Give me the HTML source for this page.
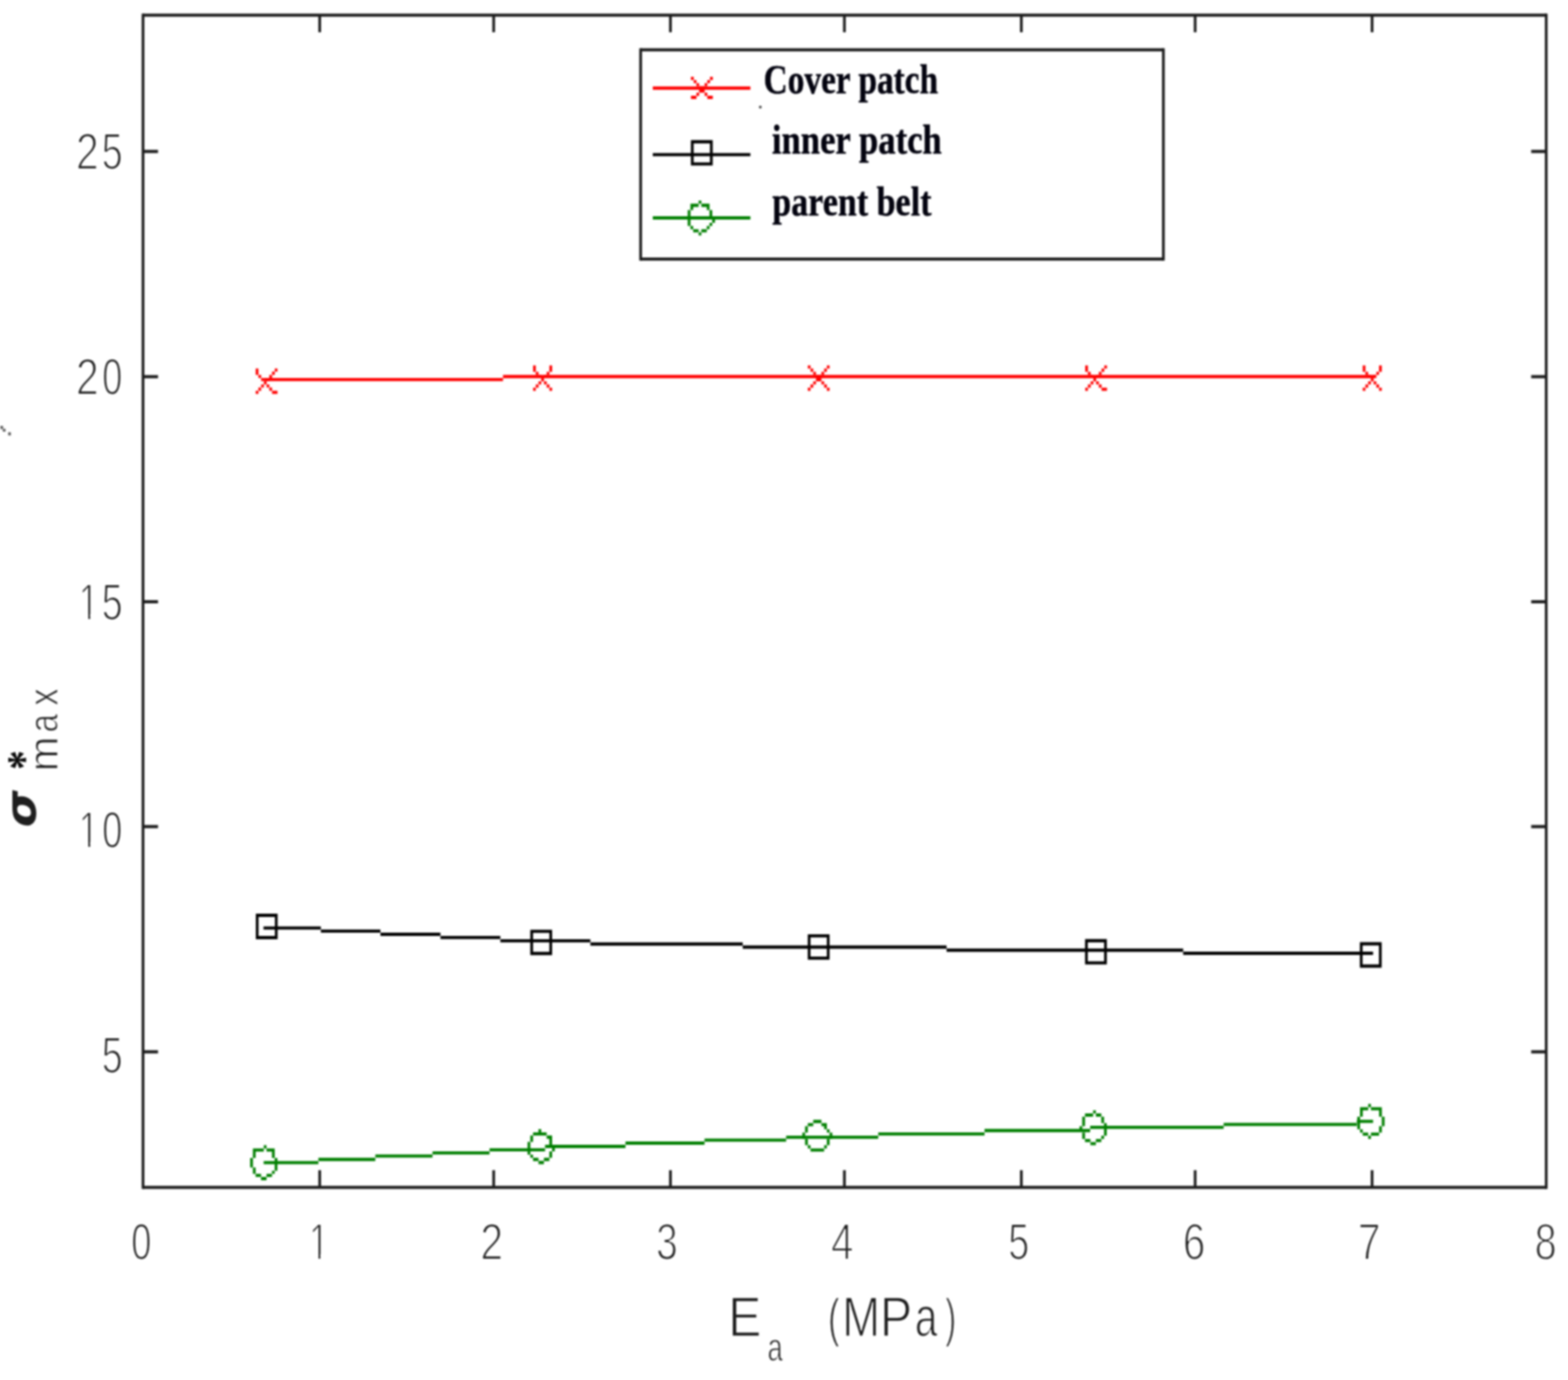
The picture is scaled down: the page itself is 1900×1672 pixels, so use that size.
<!DOCTYPE html>
<html lang="en">
<head>
<meta charset="utf-8">
<title>Maximum stress versus adhesive modulus</title>
<style>
html,body{margin:0;padding:0;background:#fff;}
body{width:1900px;height:1672px;overflow:hidden;position:relative;}
svg{display:block;position:absolute;left:0;top:0;}
text{font-family:"Liberation Sans",sans-serif;}
.tk{font-size:63px;fill:#1c1c1c;stroke:#fff;stroke-width:2px;}
.xl{font-size:69px;fill:#1c1c1c;stroke:#fff;stroke-width:1.6px;}
.sub{font-size:49px;fill:#1c1c1c;stroke:#fff;stroke-width:1.2px;}
.lg{font-family:"Liberation Serif",serif;font-weight:bold;font-size:51.5px;fill:#03030f;stroke:#03030f;stroke-width:0.5px;}
</style>
</head>
<body>
<svg width="1900" height="1672" viewBox="0 0 1900 1672">
<defs><filter id="soft" x="0" y="0" width="1900" height="1672" filterUnits="userSpaceOnUse" color-interpolation-filters="sRGB"><feGaussianBlur stdDeviation="1.0"/></filter></defs>
<rect x="0" y="0" width="1900" height="1672" fill="#ffffff"/>
<g filter="url(#soft)">
<g stroke="#1c1c1c" fill="none" stroke-linecap="butt">
<line x1="173.3" y1="16.375" x2="173.3" y2="1440.5249999999999" stroke-width="3.3"/>
<line x1="1873.6" y1="16.375" x2="1873.6" y2="1440.5249999999999" stroke-width="3.3"/>
<line x1="173.3" y1="18.3" x2="1873.6" y2="18.3" stroke-width="3.85"/>
<line x1="173.3" y1="1438.6" x2="1873.6" y2="1438.6" stroke-width="3.85"/>
<line x1="387.4" y1="1438.6" x2="387.4" y2="1417.8" stroke-width="3.3"/>
<line x1="387.4" y1="18.3" x2="387.4" y2="39.1" stroke-width="3.3"/>
<line x1="598.2" y1="1438.6" x2="598.2" y2="1417.8" stroke-width="3.3"/>
<line x1="598.2" y1="18.3" x2="598.2" y2="39.1" stroke-width="3.3"/>
<line x1="812.4" y1="1438.6" x2="812.4" y2="1417.8" stroke-width="3.3"/>
<line x1="812.4" y1="18.3" x2="812.4" y2="39.1" stroke-width="3.3"/>
<line x1="1023.2" y1="1438.6" x2="1023.2" y2="1417.8" stroke-width="3.3"/>
<line x1="1023.2" y1="18.3" x2="1023.2" y2="39.1" stroke-width="3.3"/>
<line x1="1237.6" y1="1438.6" x2="1237.6" y2="1417.8" stroke-width="3.3"/>
<line x1="1237.6" y1="18.3" x2="1237.6" y2="39.1" stroke-width="3.3"/>
<line x1="1448.2" y1="1438.6" x2="1448.2" y2="1417.8" stroke-width="3.3"/>
<line x1="1448.2" y1="18.3" x2="1448.2" y2="39.1" stroke-width="3.3"/>
<line x1="1662.6" y1="1438.6" x2="1662.6" y2="1417.8" stroke-width="3.3"/>
<line x1="1662.6" y1="18.3" x2="1662.6" y2="39.1" stroke-width="3.3"/>
<line x1="173.3" y1="183.5" x2="191.5" y2="183.5" stroke-width="3.85"/>
<line x1="1873.6" y1="183.5" x2="1855.3999999999999" y2="183.5" stroke-width="3.85"/>
<line x1="173.3" y1="456.4" x2="191.5" y2="456.4" stroke-width="3.85"/>
<line x1="1873.6" y1="456.4" x2="1855.3999999999999" y2="456.4" stroke-width="3.85"/>
<line x1="173.3" y1="729.1" x2="191.5" y2="729.1" stroke-width="3.85"/>
<line x1="1873.6" y1="729.1" x2="1855.3999999999999" y2="729.1" stroke-width="3.85"/>
<line x1="173.3" y1="1001.5" x2="191.5" y2="1001.5" stroke-width="3.85"/>
<line x1="1873.6" y1="1001.5" x2="1855.3999999999999" y2="1001.5" stroke-width="3.85"/>
<line x1="173.3" y1="1274.4" x2="191.5" y2="1274.4" stroke-width="3.85"/>
<line x1="1873.6" y1="1274.4" x2="1855.3999999999999" y2="1274.4" stroke-width="3.85"/>
</g>
<text class="tk" y="1526.30"><tspan x="158.95" textLength="24.53" lengthAdjust="spacingAndGlyphs">0</tspan></text>
<text class="tk" y="1526.30"><tspan x="374.41" textLength="23.83" lengthAdjust="spacingAndGlyphs">1</tspan></text><path d="M374.41,1519.68H385.94V1529.30H374.41ZM388.16,1519.68H398.40V1529.30H388.16Z" fill="#fff"/>
<text class="tk" y="1526.30"><tspan x="581.96" textLength="27.68" lengthAdjust="spacingAndGlyphs">2</tspan></text>
<text class="tk" y="1526.30"><tspan x="795.01" textLength="26.28" lengthAdjust="spacingAndGlyphs">3</tspan></text>
<text class="tk" y="1526.30"><tspan x="1006.99" textLength="27.33" lengthAdjust="spacingAndGlyphs">4</tspan></text>
<text class="tk" y="1526.30"><tspan x="1221.74" textLength="25.40" lengthAdjust="spacingAndGlyphs">5</tspan></text>
<text class="tk" y="1526.30"><tspan x="1433.34" textLength="27.33" lengthAdjust="spacingAndGlyphs">6</tspan></text>
<text class="tk" y="1526.30"><tspan x="1645.26" textLength="27.68" lengthAdjust="spacingAndGlyphs">7</tspan></text>
<text class="tk" y="1526.30"><tspan x="1859.55" textLength="26.81" lengthAdjust="spacingAndGlyphs">8</tspan></text>
<text class="tk" y="205.30"><tspan x="92.12" textLength="27.68" lengthAdjust="spacingAndGlyphs">2</tspan><tspan x="123.33" textLength="25.40" lengthAdjust="spacingAndGlyphs">5</tspan></text>
<text class="tk" y="478.10"><tspan x="92.12" textLength="27.68" lengthAdjust="spacingAndGlyphs">2</tspan><tspan x="123.67" textLength="24.53" lengthAdjust="spacingAndGlyphs">0</tspan></text>
<text class="tk" y="750.60"><tspan x="95.51" textLength="23.83" lengthAdjust="spacingAndGlyphs">1</tspan><tspan x="123.33" textLength="25.40" lengthAdjust="spacingAndGlyphs">5</tspan></text><path d="M95.51,743.99H107.04V753.60H95.51ZM109.26,743.99H119.50V753.60H109.26Z" fill="#fff"/>
<text class="tk" y="1026.90"><tspan x="95.51" textLength="23.83" lengthAdjust="spacingAndGlyphs">1</tspan><tspan x="123.67" textLength="24.53" lengthAdjust="spacingAndGlyphs">0</tspan></text><path d="M95.51,1020.29H107.04V1029.90H95.51ZM109.26,1020.29H119.50V1029.90H109.26Z" fill="#fff"/>
<text class="tk" y="1299.70"><tspan x="123.33" textLength="25.40" lengthAdjust="spacingAndGlyphs">5</tspan></text>
<path d="M319.5,459.9H609.5M609.5,456.2H1666.5" fill="none" stroke="#ff0000" stroke-width="3.85"/>
<path d="M309.85,446.45h3.30v3.85h-3.30zM332.95,446.45h3.30v3.85h-3.30zM309.85,450.30h3.30v3.85h-3.30zM329.65,450.30h3.30v3.85h-3.30zM313.15,454.15h3.30v3.85h-3.30zM326.35,454.15h3.30v3.85h-3.30zM316.45,458.00h3.30v3.85h-3.30zM323.05,458.00h3.30v3.85h-3.30zM319.75,461.85h3.30v3.85h-3.30zM316.45,465.70h3.30v3.85h-3.30zM323.05,465.70h3.30v3.85h-3.30zM313.15,469.55h3.30v3.85h-3.30zM326.35,469.55h3.30v3.85h-3.30zM309.85,473.40h3.30v3.85h-3.30zM329.65,473.40h6.60v3.85h-6.60z" fill="#ff0000"/>
<path d="M645.95,442.70h3.30v3.85h-3.30zM665.75,442.70h3.30v3.85h-3.30zM645.95,446.55h3.30v3.85h-3.30zM665.75,446.55h3.30v3.85h-3.30zM649.25,450.40h3.30v3.85h-3.30zM662.45,450.40h3.30v3.85h-3.30zM652.55,454.25h3.30v3.85h-3.30zM659.15,454.25h3.30v3.85h-3.30zM655.85,458.10h3.30v3.85h-3.30zM652.55,461.95h3.30v3.85h-3.30zM659.15,461.95h3.30v3.85h-3.30zM649.25,465.80h3.30v3.85h-3.30zM662.45,465.80h3.30v3.85h-3.30zM645.95,469.65h3.30v3.85h-3.30zM665.75,469.65h3.30v3.85h-3.30z" fill="#ff0000"/>
<path d="M978.85,442.70h3.30v3.85h-3.30zM1001.95,442.70h3.30v3.85h-3.30zM982.15,446.55h3.30v3.85h-3.30zM998.65,446.55h3.30v3.85h-3.30zM985.45,450.40h3.30v3.85h-3.30zM995.35,450.40h3.30v3.85h-3.30zM988.75,454.25h6.60v3.85h-6.60zM988.75,458.10h6.60v3.85h-6.60zM985.45,461.95h3.30v3.85h-3.30zM995.35,461.95h3.30v3.85h-3.30zM982.15,465.80h3.30v3.85h-3.30zM998.65,465.80h3.30v3.85h-3.30zM978.85,469.65h3.30v3.85h-3.30zM1001.95,469.65h3.30v3.85h-3.30z" fill="#ff0000"/>
<path d="M1315.00,442.70h3.30v3.85h-3.30zM1338.10,442.70h3.30v3.85h-3.30zM1315.00,446.55h3.30v3.85h-3.30zM1334.80,446.55h3.30v3.85h-3.30zM1318.30,450.40h3.30v3.85h-3.30zM1331.50,450.40h3.30v3.85h-3.30zM1321.60,454.25h3.30v3.85h-3.30zM1328.20,454.25h3.30v3.85h-3.30zM1324.90,458.10h3.30v3.85h-3.30zM1321.60,461.95h3.30v3.85h-3.30zM1328.20,461.95h3.30v3.85h-3.30zM1318.30,465.80h3.30v3.85h-3.30zM1331.50,465.80h3.30v3.85h-3.30zM1315.00,469.65h3.30v3.85h-3.30zM1334.80,469.65h6.60v3.85h-6.60z" fill="#ff0000"/>
<path d="M1651.25,442.70h3.30v3.85h-3.30zM1671.05,442.70h3.30v3.85h-3.30zM1651.25,446.55h3.30v3.85h-3.30zM1671.05,446.55h3.30v3.85h-3.30zM1654.55,450.40h3.30v3.85h-3.30zM1667.75,450.40h3.30v3.85h-3.30zM1657.85,454.25h3.30v3.85h-3.30zM1664.45,454.25h3.30v3.85h-3.30zM1661.15,458.10h3.30v3.85h-3.30zM1657.85,461.95h3.30v3.85h-3.30zM1664.45,461.95h3.30v3.85h-3.30zM1654.55,465.80h3.30v3.85h-3.30zM1667.75,465.80h3.30v3.85h-3.30zM1651.25,469.65h3.30v3.85h-3.30zM1671.05,469.65h3.30v3.85h-3.30z" fill="#ff0000"/>
<path d="M319.3,1124.3H388.8M388.8,1128.1H461.0M461.0,1132.0H533.7M533.7,1135.9H606.3M606.3,1139.9H715.4M715.4,1143.7H900.0M900.0,1147.5H1147.0M1147.0,1151.2H1433.7M1433.7,1155.0H1663.8" fill="none" stroke="#000000" stroke-width="3.85"/>
<path d="M310.00,1107.10h26.40v30.80h-26.40zM313.30,1110.95v23.10h19.80v-23.10z" fill="#000000" fill-rule="evenodd"/>
<path d="M642.60,1126.40h26.40v30.80h-26.40zM645.90,1130.25v23.10h19.80v-23.10z" fill="#000000" fill-rule="evenodd"/>
<path d="M978.80,1132.00h26.40v30.80h-26.40zM982.10,1135.85v23.10h19.80v-23.10z" fill="#000000" fill-rule="evenodd"/>
<path d="M1314.80,1137.80h26.40v30.80h-26.40zM1318.10,1141.65v23.10h19.80v-23.10z" fill="#000000" fill-rule="evenodd"/>
<path d="M1647.80,1141.60h26.40v30.80h-26.40zM1651.10,1145.45v23.10h19.80v-23.10z" fill="#000000" fill-rule="evenodd"/>
<path d="M319.5,1408.6H385.8M385.8,1404.7H454.8M454.8,1400.6H524.1M524.1,1396.8H593.2M593.2,1393.1H660.5M660.5,1389.0H757.9M757.9,1385.0H853.7M853.7,1381.4H952.6M952.6,1377.9H1064.2M1064.2,1373.8H1193.0M1193.0,1369.7H1321.0M1321.0,1365.9H1482.7M1482.7,1362.4H1644.2M1644.2,1358.6H1663.8" fill="none" stroke="#007f00" stroke-width="3.85"/>
<path d="M319.65,1387.58h3.30v3.85h-3.30zM306.45,1391.42h13.20v3.85h-13.20zM322.95,1391.42h9.90v3.85h-9.90zM306.45,1395.28h3.30v3.85h-3.30zM329.55,1395.28h3.30v3.85h-3.30zM306.45,1399.12h3.30v3.85h-3.30zM329.55,1399.12h3.30v3.85h-3.30zM303.15,1402.98h3.30v3.85h-3.30zM332.85,1402.98h3.30v3.85h-3.30zM303.15,1406.83h3.30v3.85h-3.30zM332.85,1406.83h3.30v3.85h-3.30zM303.15,1410.67h3.30v3.85h-3.30zM332.85,1410.67h3.30v3.85h-3.30zM306.45,1414.53h3.30v3.85h-3.30zM332.85,1414.53h3.30v3.85h-3.30zM306.45,1418.38h3.30v3.85h-3.30zM329.55,1418.38h3.30v3.85h-3.30zM309.75,1422.23h6.60v3.85h-6.60zM322.95,1422.23h6.60v3.85h-6.60zM316.35,1426.08h6.60v3.85h-6.60z" fill="#007f00"/>
<path d="M652.50,1368.12h3.30v3.85h-3.30zM645.90,1371.97h16.50v3.85h-16.50zM642.60,1375.83h3.30v3.85h-3.30zM662.40,1375.83h6.60v3.85h-6.60zM642.60,1379.67h3.30v3.85h-3.30zM665.70,1379.67h3.30v3.85h-3.30zM639.30,1383.53h3.30v3.85h-3.30zM665.70,1383.53h3.30v3.85h-3.30zM639.30,1387.38h3.30v3.85h-3.30zM669.00,1387.38h3.30v3.85h-3.30zM639.30,1391.22h3.30v3.85h-3.30zM669.00,1391.22h3.30v3.85h-3.30zM639.30,1395.08h3.30v3.85h-3.30zM665.70,1395.08h3.30v3.85h-3.30zM642.60,1398.92h3.30v3.85h-3.30zM665.70,1398.92h3.30v3.85h-3.30zM645.90,1402.78h6.60v3.85h-6.60zM659.10,1402.78h6.60v3.85h-6.60zM652.50,1406.62h6.60v3.85h-6.60z" fill="#007f00"/>
<path d="M985.45,1356.80h9.90v3.85h-9.90zM978.85,1360.65h6.60v3.85h-6.60zM995.35,1360.65h6.60v3.85h-6.60zM975.55,1364.50h3.30v3.85h-3.30zM998.65,1364.50h3.30v3.85h-3.30zM975.55,1368.35h3.30v3.85h-3.30zM1001.95,1368.35h3.30v3.85h-3.30zM972.25,1372.20h3.30v3.85h-3.30zM1005.25,1372.20h3.30v3.85h-3.30zM972.25,1376.05h3.30v3.85h-3.30zM1005.25,1376.05h3.30v3.85h-3.30zM975.55,1379.90h3.30v3.85h-3.30zM1001.95,1379.90h3.30v3.85h-3.30zM975.55,1383.75h3.30v3.85h-3.30zM1001.95,1383.75h3.30v3.85h-3.30zM978.85,1387.60h3.30v3.85h-3.30zM998.65,1387.60h3.30v3.85h-3.30zM982.15,1391.45h16.50v3.85h-16.50z" fill="#007f00"/>
<path d="M1324.60,1345.23h3.30v3.85h-3.30zM1314.70,1349.08h9.90v3.85h-9.90zM1327.90,1349.08h6.60v3.85h-6.60zM1311.40,1352.93h3.30v3.85h-3.30zM1334.50,1352.93h3.30v3.85h-3.30zM1311.40,1356.78h3.30v3.85h-3.30zM1334.50,1356.78h3.30v3.85h-3.30zM1311.40,1360.63h3.30v3.85h-3.30zM1337.80,1360.63h3.30v3.85h-3.30zM1308.10,1364.48h3.30v3.85h-3.30zM1337.80,1364.48h3.30v3.85h-3.30zM1337.80,1368.33h3.30v3.85h-3.30zM1311.40,1372.18h3.30v3.85h-3.30zM1337.80,1372.18h3.30v3.85h-3.30zM1311.40,1376.03h3.30v3.85h-3.30zM1334.50,1376.03h3.30v3.85h-3.30zM1314.70,1379.88h6.60v3.85h-6.60zM1327.90,1379.88h6.60v3.85h-6.60zM1321.30,1383.73h6.60v3.85h-6.60z" fill="#007f00"/>
<path d="M1657.90,1337.53h3.30v3.85h-3.30zM1648.00,1341.38h9.90v3.85h-9.90zM1661.20,1341.38h13.20v3.85h-13.20zM1648.00,1345.23h3.30v3.85h-3.30zM1671.10,1345.23h3.30v3.85h-3.30zM1648.00,1349.08h3.30v3.85h-3.30zM1671.10,1349.08h3.30v3.85h-3.30zM1644.70,1352.93h3.30v3.85h-3.30zM1674.40,1352.93h3.30v3.85h-3.30zM1644.70,1356.78h3.30v3.85h-3.30zM1674.40,1356.78h3.30v3.85h-3.30zM1644.70,1360.62h3.30v3.85h-3.30zM1674.40,1360.62h3.30v3.85h-3.30zM1644.70,1364.48h3.30v3.85h-3.30zM1671.10,1364.48h3.30v3.85h-3.30zM1648.00,1368.33h3.30v3.85h-3.30zM1671.10,1368.33h3.30v3.85h-3.30zM1651.30,1372.18h6.60v3.85h-6.60zM1661.20,1372.18h9.90v3.85h-9.90zM1657.90,1376.03h3.30v3.85h-3.30z" fill="#007f00"/>
<path d="M776.3,60.4H1409.7V313.8H776.3Z" fill="#ffffff"/>
<g stroke="#1c1c1c" fill="none"><path d="M776.3,58.475V315.725M1409.7,58.475V315.725" stroke-width="3.3"/><path d="M776.3,60.4H1409.7M776.3,313.8H1409.7" stroke-width="3.85"/></g>
<line x1="791" y1="106.7" x2="909.3" y2="106.7" stroke="#ff0000" stroke-width="3.85"/>
<path d="M837.30,93.03h3.30v3.85h-3.30zM860.40,93.03h3.30v3.85h-3.30zM840.60,96.88h3.30v3.85h-3.30zM857.10,96.88h3.30v3.85h-3.30zM843.90,100.73h3.30v3.85h-3.30zM853.80,100.73h3.30v3.85h-3.30zM847.20,104.58h6.60v3.85h-6.60zM847.20,108.43h6.60v3.85h-6.60zM843.90,112.28h3.30v3.85h-3.30zM853.80,112.28h3.30v3.85h-3.30zM837.30,116.12h6.60v3.85h-6.60zM857.10,116.12h6.60v3.85h-6.60z" fill="#ff0000"/>
<line x1="791" y1="187.3" x2="909.3" y2="187.3" stroke="#000000" stroke-width="3.85"/>
<path d="M837.20,169.80h26.40v30.80h-26.40zM840.50,173.65v23.10h19.80v-23.10z" fill="#000000" fill-rule="evenodd"/>
<line x1="791" y1="264" x2="909.3" y2="264" stroke="#007f00" stroke-width="3.85"/>
<path d="M846.55,243.02h3.30v3.85h-3.30zM836.65,246.87h9.90v3.85h-9.90zM849.85,246.87h9.90v3.85h-9.90zM836.65,250.72h3.30v3.85h-3.30zM856.45,250.72h3.30v3.85h-3.30zM833.35,254.57h3.30v3.85h-3.30zM859.75,254.57h3.30v3.85h-3.30zM833.35,258.42h3.30v3.85h-3.30zM859.75,258.42h3.30v3.85h-3.30zM833.35,262.27h3.30v3.85h-3.30zM859.75,262.27h3.30v3.85h-3.30zM833.35,266.12h3.30v3.85h-3.30zM863.05,266.12h3.30v3.85h-3.30zM833.35,269.97h3.30v3.85h-3.30zM859.75,269.97h3.30v3.85h-3.30zM836.65,273.82h3.30v3.85h-3.30zM856.45,273.82h3.30v3.85h-3.30zM839.95,277.67h6.60v3.85h-6.60zM849.85,277.67h6.60v3.85h-6.60zM846.55,281.52h3.30v3.85h-3.30z" fill="#007f00"/>
<text class="lg" transform="translate(925.3,112.5) scale(0.785,1)">Cover patch</text>
<text class="lg" transform="translate(935.3,185.5) scale(0.816,1)">inner patch</text>
<text class="lg" transform="translate(935.8,261.2) scale(0.801,1)">parent belt</text>
<circle cx="921.3" cy="129.7" r="1.7" fill="#444"/>
<text class="xl" style="font-size:69px" y="1618.8"><tspan x="882.34" textLength="40.50" lengthAdjust="spacingAndGlyphs">E</tspan></text>
<text class="sub" style="font-size:49px" y="1649"><tspan x="929.96" textLength="18.53" lengthAdjust="spacingAndGlyphs">a</tspan></text>
<text class="xl" style="font-size:69px" y="1618.8"><tspan x="1003.24" textLength="14.07" lengthAdjust="spacingAndGlyphs" style="font-size:64px">(</tspan><tspan x="1020.54" textLength="45.98" lengthAdjust="spacingAndGlyphs">M</tspan><tspan x="1066.13" textLength="39.12" lengthAdjust="spacingAndGlyphs">P</tspan><tspan x="1108.45" textLength="27.43" lengthAdjust="spacingAndGlyphs">a</tspan><tspan x="1145.51" textLength="13.21" lengthAdjust="spacingAndGlyphs" style="font-size:64px">)</tspan></text>
<g transform="translate(69.7,0) rotate(-90)"><text class="sub" style="font-size:50.5px" y="0"><tspan x="-934.43" textLength="42.07" lengthAdjust="spacingAndGlyphs">m</tspan><tspan x="-887.40" textLength="22.46" lengthAdjust="spacingAndGlyphs">a</tspan><tspan x="-855.12" textLength="20.96" lengthAdjust="spacingAndGlyphs">x</tspan></text></g>
<text style="font-family:'Liberation Serif',serif;font-weight:bold;font-size:53px;fill:#0a0a0a" transform="translate(47.5,932.8) rotate(-90) scale(0.9,1.06)">*</text>
<text style="font-family:'DejaVu Sans',sans-serif;font-weight:bold;font-style:italic;font-size:55px;fill:#1e1e1e" transform="translate(42.6,1002.2) rotate(-90) scale(1.048,0.945)">σ</text>
<path d="M0.4,516.0h3.3v3.8h-3.3zM3.4,519.6h3.3v3.4h-3.3zM9.9,523.8h3.3v3.8h-3.3z" fill="#5c5c5c"/>
</g>
</svg>
</body>
</html>
